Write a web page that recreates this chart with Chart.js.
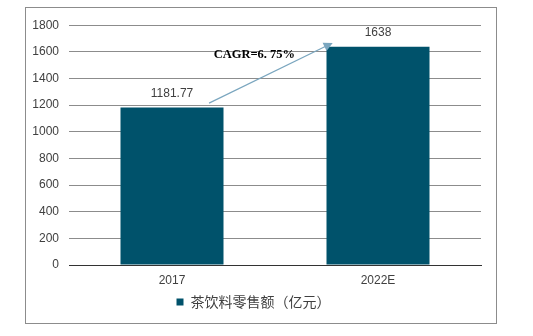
<!DOCTYPE html>
<html lang="zh">
<head>
<meta charset="UTF-8">
<title>茶饮料零售额</title>
<script src="https://cdn.jsdelivr.net/npm/chart.js"></script>
<style>
    body { margin: 0; background: #fff; }
    .frame {
        position: absolute;
        left: 25px;
        top: 7px;
        width: 470px;
        height: 315px;
        border: 1px solid #8c8c8c;
    }
</style>
</head>
<body>
<div class="frame">
    <canvas id="chart" width="470" height="315"></canvas>
</div>
<script>
// 数据
const years = ['2017', '2022E'];
const sales = [1181.77, 1638];
const valueLabels = ['1181.77', '1638'];
const seriesName = '茶饮料零售额（亿元）';
const cagrText = 'CAGR=6. 75%';
// 箭头起止点（类目索引, 数值）
const arrowFrom = [0.18, 1215];
const arrowTo = [0.78, 1667];
const cagrAt = [0.4, 1578];

const barColor = '#00526b';

// 柱顶数值 + CAGR 箭头
const extras = {
    id: 'extras',
    afterDatasetsDraw(chart) {
        const ctx = chart.ctx;
        const x = chart.scales.x, y = chart.scales.y;
        ctx.save();
        ctx.font = '12px "Liberation Sans", Arial, sans-serif';
        ctx.fillStyle = '#404040';
        ctx.textAlign = 'center';
        ctx.textBaseline = 'middle';
        chart.getDatasetMeta(0).data.forEach((bar, i) => {
            ctx.fillText(valueLabels[i], bar.x, bar.y - 14);
        });

        const x1 = x.getPixelForValue(arrowFrom[0]), y1 = y.getPixelForValue(arrowFrom[1]);
        const x2 = x.getPixelForValue(arrowTo[0]), y2 = y.getPixelForValue(arrowTo[1]);
        const ang = Math.atan2(y2 - y1, x2 - x1);
        ctx.strokeStyle = '#7aa6bf';
        ctx.fillStyle = '#7aa6bf';
        ctx.lineWidth = 1.2;
        ctx.beginPath();
        ctx.moveTo(x1, y1);
        ctx.lineTo(x2 - 6 * Math.cos(ang), y2 - 6 * Math.sin(ang));
        ctx.stroke();
        ctx.beginPath();
        ctx.moveTo(x2, y2);
        ctx.lineTo(x2 - 9 * Math.cos(ang) + 4.5 * Math.sin(ang), y2 - 9 * Math.sin(ang) - 4.5 * Math.cos(ang));
        ctx.lineTo(x2 - 9 * Math.cos(ang) - 4.5 * Math.sin(ang), y2 - 9 * Math.sin(ang) + 4.5 * Math.cos(ang));
        ctx.closePath();
        ctx.fill();

        ctx.font = 'bold 12.5px "Liberation Serif", "DejaVu Serif", serif';
        ctx.fillStyle = '#000';
        ctx.fillText(cagrText, x.getPixelForValue(cagrAt[0]), y.getPixelForValue(cagrAt[1]));
        ctx.restore();
    }
};

new Chart(document.getElementById('chart').getContext('2d'), {
    type: 'bar',
    data: {
        labels: years,
        datasets: [{
            label: seriesName,
            data: sales,
            backgroundColor: barColor,
            categoryPercentage: 1,
            barPercentage: 0.5
        }]
    },
    options: {
        responsive: false,
        animation: false,
        layout: { padding: { top: 13, right: 15, left: 0, bottom: 4 } },
        plugins: {
            legend: {
                position: 'bottom',
                labels: {
                    boxWidth: 7,
                    boxHeight: 7,
                    color: '#404040',
                    font: { size: 14, family: '"Noto Sans CJK SC", sans-serif' },
                    padding: 0
                }
            },
            tooltip: { enabled: false }
        },
        scales: {
            x: {
                afterFit(scale) { scale.height = 30; },
                grid: { display: false, drawTicks: false },
                border: { color: '#333', width: 1 },
                ticks: { color: '#404040', font: { size: 12, family: '"Liberation Sans", Arial' }, padding: 8 }
            },
            y: {
                min: 0,
                max: 1800,
                afterFit(scale) { scale.width = 43; },
                grid: { color: '#8c8c8c', drawTicks: false },
                border: { display: false },
                ticks: {
                    stepSize: 200,
                    padding: 10,
                    color: '#404040',
                    font: { size: 12, family: '"Liberation Sans", Arial' },
                    callback: v => String(v)
                }
            }
        }
    },
    plugins: [extras]
});
</script>
</body>
</html>
